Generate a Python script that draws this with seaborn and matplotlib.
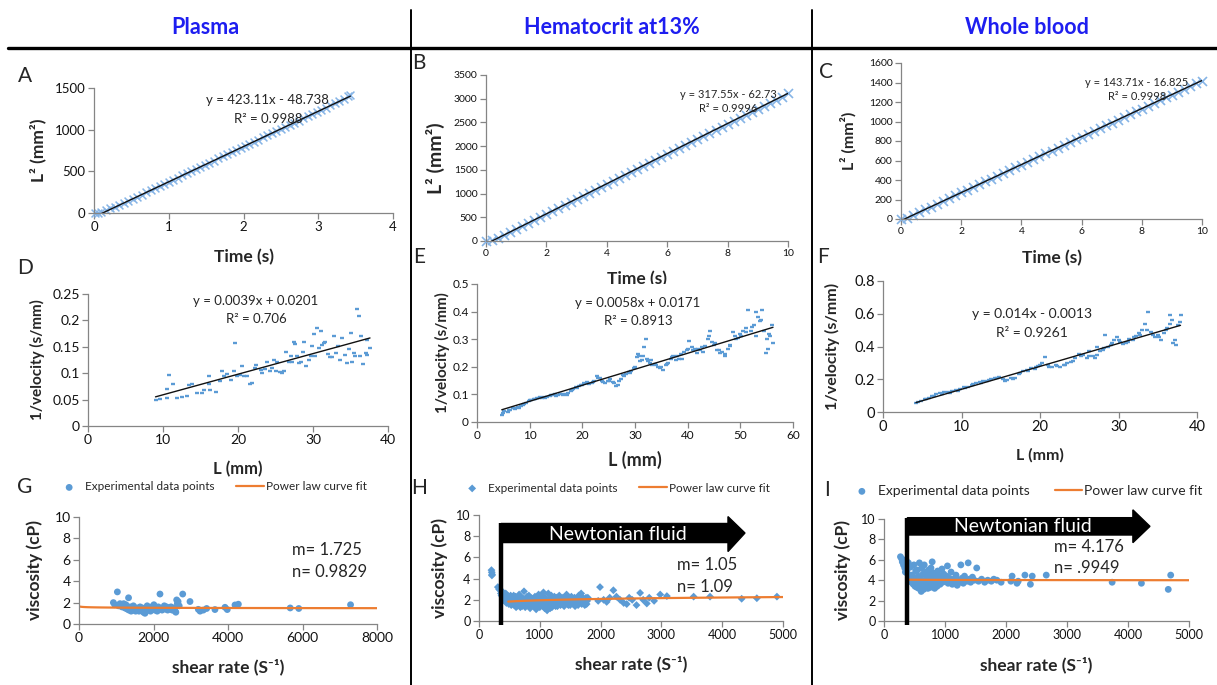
import numpy as np
import seaborn as sns
import matplotlib.pyplot as plt
from matplotlib.lines import Line2D
from matplotlib.patches import Polygon
from matplotlib.ticker import FuncFormatter

# === Data ===
A_time = [0.02, 0.06, 0.10, 0.16, 0.22, 0.28, 0.34, 0.40, 0.46, 0.52, 0.58, 0.64, 0.70, 0.76, 0.82,
          0.88, 0.94, 1.00, 1.06, 1.12, 1.18, 1.24, 1.30, 1.36, 1.42, 1.48, 1.54, 1.60, 1.66, 1.72,
          1.78, 1.84, 1.90, 1.96, 2.02, 2.08, 2.14, 2.20, 2.26, 2.32, 2.38, 2.44, 2.50, 2.56, 2.62,
          2.68, 2.74, 2.80, 2.86, 2.92, 2.98, 3.04, 3.10, 3.16, 3.22, 3.28, 3.34, 3.40, 3.43]
A_L2 = [0, 5, 15, 40, 55, 75, 100, 125, 148, 172, 198, 222, 248, 272, 298,
        322, 350, 372, 398, 425, 452, 475, 500, 527, 553, 578, 603, 630, 655, 680,
        707, 732, 757, 782, 808, 832, 858, 882, 908, 932, 958, 982, 1008, 1035, 1060,
        1086, 1110, 1138, 1163, 1190, 1215, 1240, 1265, 1292, 1318, 1343, 1370, 1400, 1420]

B_time = [0.0, 0.2, 0.4, 0.6, 0.8, 1.0, 1.2, 1.4, 1.6, 1.8, 2.0, 2.2, 2.4, 2.6, 2.8, 3.0, 3.2,
          3.4, 3.6, 3.8, 4.0, 4.2, 4.4, 4.6, 4.8, 5.0, 5.2, 5.4, 5.6, 5.8, 6.0, 6.2, 6.4, 6.6,
          6.8, 7.0, 7.2, 7.4, 7.6, 7.8, 8.0, 8.2, 8.4, 8.6, 8.8, 9.0, 9.2, 9.4, 9.6, 9.8, 10.0]
B_L2 = [0, 20, 70, 130, 195, 258, 322, 385, 448, 512, 575, 638, 700, 763, 826, 890, 952,
        1015, 1078, 1142, 1205, 1268, 1333, 1396, 1460, 1522, 1585, 1650, 1713, 1777, 1840, 1903, 1967, 2030,
        2094, 2157, 2220, 2285, 2348, 2411, 2475, 2538, 2601, 2665, 2728, 2792, 2855, 2918, 2982, 3045, 3110]

C_time = B_time
C_L2 = [0, 10, 40, 70, 100, 128, 157, 186, 214, 243, 272, 300, 329, 357, 386, 415, 443,
        472, 500, 530, 558, 587, 615, 644, 673, 702, 730, 759, 787, 816, 845, 873, 902, 931,
        960, 988, 1017, 1046, 1075, 1104, 1133, 1160, 1190, 1218, 1247, 1276, 1305, 1334, 1362, 1390, 1415]

D_L = [9.0, 9.6, 10.5, 10.8, 11.3, 10.5, 11.8, 12.5, 13.2, 13.5, 13.9, 14.5, 15.2, 15.4, 16.1, 16.1,
       16.3, 17.0, 17.6, 17.9, 18.1, 18.5, 19.0, 19.4, 19.9, 20.3, 20.5, 20.8, 19.6, 21.2, 21.6, 21.9,
       22.3, 22.4, 23.0, 23.2, 23.6, 23.9, 24.2, 24.5, 24.8, 25.0, 25.2, 25.6, 25.9, 26.1, 26.4, 26.8,
       27.0, 27.2, 27.4, 27.6, 27.9, 28.1, 28.4, 28.7, 28.8, 29.1, 29.4, 29.7, 29.9, 30.1, 30.3, 30.5,
       30.8, 31.0, 31.2, 31.4, 31.6, 32.0, 32.2, 32.5, 32.8, 33.1, 33.3, 33.6, 33.9, 34.3, 34.5, 34.8,
       35.0, 35.2, 35.4, 35.6, 35.9, 36.1, 36.2, 36.4, 36.7, 37.0, 37.2, 37.6, 37.2]
D_invv = [0.049, 0.051, 0.070, 0.097, 0.080, 0.053, 0.053, 0.054, 0.057, 0.078, 0.080, 0.062, 0.062, 0.068,
          0.080, 0.094, 0.068, 0.065, 0.086, 0.105, 0.094, 0.099, 0.087, 0.105, 0.094, 0.096, 0.114, 0.094,
          0.157, 0.094, 0.080, 0.082, 0.110, 0.116, 0.106, 0.100, 0.108, 0.122, 0.105, 0.110, 0.125, 0.104,
          0.121, 0.103, 0.101, 0.104, 0.141, 0.121, 0.132, 0.122, 0.160, 0.156, 0.132, 0.119, 0.122, 0.141,
          0.159, 0.114, 0.125, 0.132, 0.151, 0.174, 0.133, 0.185, 0.147, 0.180, 0.154, 0.157, 0.159, 0.137,
          0.131, 0.131, 0.170, 0.138, 0.151, 0.125, 0.166, 0.135, 0.119, 0.146, 0.176, 0.122, 0.138, 0.132,
          0.221, 0.209, 0.132, 0.171, 0.118, 0.138, 0.163, 0.147, 0.135]

E_L = [4.7, 5.2, 5.8, 6.3, 6.8, 7.3, 7.8, 8.3, 8.8, 9.3, 9.8, 10.3, 10.8, 11.3, 11.8, 12.3, 12.8, 13.3,
       13.8, 14.3, 14.8, 15.3, 15.8, 16.3, 16.8, 17.3, 17.8, 18.3, 18.8, 19.3, 19.8, 20.3, 20.8, 21.3,
       21.8, 22.3, 22.8, 23.3, 23.8, 24.3, 24.8, 25.3, 25.8, 26.3, 26.8, 27.3, 27.8, 28.3, 28.8, 29.3,
       29.8, 30.3, 30.8, 31.3, 31.8, 32.0, 32.3, 32.8, 33.3, 33.8, 34.3, 34.8, 35.3, 35.8, 36.3, 36.8,
       37.3, 37.8, 38.3, 38.8, 39.3, 39.8, 40.3, 40.8, 41.3, 41.8, 42.3, 42.8, 43.3, 43.8, 44.2, 44.6,
       45.1, 45.6, 46.1, 46.6, 47.1, 47.6, 48.1, 48.6, 49.1, 49.6, 50.1, 50.6, 51.1, 51.5, 52.0, 52.5,
       52.9, 53.3, 53.7, 54.1, 54.5, 54.9, 55.3, 55.7, 56.0, 56.2,
       5.0, 6.0, 7.0, 8.0, 9.0, 10.0, 11.0, 12.0, 13.0, 14.0, 15.0, 16.0, 17.0, 18.0, 19.0, 20.0,
       21.0, 22.0, 23.0, 24.0, 25.0, 26.0, 27.0, 28.0, 29.0, 30.0, 30.5, 31.0, 31.5, 32.5, 33.0, 34.0,
       35.0, 36.0, 37.0, 38.0, 39.0, 40.0, 41.0, 42.0, 43.0, 44.0, 45.0, 46.0, 47.0, 48.0, 49.0, 50.0,
       51.0, 52.2, 53.0, 54.0, 55.0, 55.5]
E_invv = [0.025, 0.040, 0.035, 0.045, 0.050, 0.048, 0.055, 0.058, 0.062, 0.068, 0.075, 0.080, 0.083, 0.086,
          0.088, 0.087, 0.090, 0.092, 0.095, 0.098, 0.100, 0.097, 0.100, 0.098, 0.102, 0.105, 0.112, 0.120,
          0.128, 0.132, 0.135, 0.140, 0.145, 0.138, 0.142, 0.150, 0.165, 0.160, 0.150, 0.140, 0.150, 0.155,
          0.145, 0.130, 0.135, 0.155, 0.170, 0.175, 0.180, 0.185, 0.195, 0.235, 0.240, 0.225, 0.270, 0.300,
          0.230, 0.215, 0.205, 0.210, 0.200, 0.195, 0.190, 0.205, 0.215, 0.230, 0.240, 0.225, 0.230, 0.245,
          0.255, 0.260, 0.295, 0.270, 0.265, 0.250, 0.260, 0.270, 0.275, 0.300, 0.330, 0.290, 0.285, 0.260,
          0.250, 0.255, 0.240, 0.265, 0.280, 0.325, 0.300, 0.305, 0.310, 0.330, 0.340, 0.405, 0.330, 0.350,
          0.310, 0.380, 0.365, 0.405, 0.330, 0.250, 0.265, 0.310, 0.350, 0.285,
          0.032, 0.042, 0.052, 0.052, 0.065, 0.078, 0.082, 0.090, 0.088, 0.097, 0.095, 0.103, 0.098, 0.115,
          0.125, 0.135, 0.142, 0.145, 0.158, 0.145, 0.148, 0.140, 0.150, 0.168, 0.178, 0.200, 0.245, 0.220,
          0.240, 0.220, 0.225, 0.205, 0.200, 0.210, 0.235, 0.240, 0.230, 0.265, 0.260, 0.265, 0.255, 0.310,
          0.280, 0.260, 0.245, 0.275, 0.310, 0.320, 0.325, 0.345, 0.400, 0.370, 0.300, 0.320]

F_L = [4.2, 4.8, 5.3, 5.8, 6.3, 6.8, 7.3, 7.8, 8.3, 8.8, 9.3, 9.8, 10.3, 10.8, 11.3, 11.8, 12.3, 12.8,
       13.3, 13.8, 14.3, 14.8, 15.3, 15.8, 16.3, 16.8, 17.3, 17.8, 18.3, 18.8, 19.3, 19.8, 20.3, 20.6,
       21.0, 21.5, 22.0, 22.5, 23.0, 23.5, 24.0, 24.5, 25.0, 25.5, 26.0, 26.3, 26.7, 27.0, 27.3, 27.6,
       28.0, 28.3, 28.6, 29.0, 29.4, 29.8, 30.2, 30.6, 31.0, 31.4, 31.8, 32.2, 32.6, 33.0, 33.4, 33.8,
       34.2, 34.6, 35.0, 35.4, 35.8, 36.2, 36.5, 36.8, 37.0, 37.3, 37.6, 37.9,
       4.5, 5.5, 6.5, 7.5, 8.5, 9.5, 10.5, 11.5, 12.5, 13.5, 14.5, 15.5, 16.5, 17.5, 18.5, 19.5, 20.0,
       21.2, 22.2, 23.2, 24.2, 25.2, 26.2, 27.2, 28.2, 29.2, 30.0, 31.2, 32.0, 32.8, 33.6, 34.4, 35.2,
       36.0, 36.6, 37.2, 37.8]
F_invv = [0.055, 0.065, 0.080, 0.085, 0.095, 0.110, 0.115, 0.120, 0.122, 0.128, 0.135, 0.140, 0.150, 0.155,
          0.165, 0.175, 0.185, 0.190, 0.188, 0.200, 0.210, 0.215, 0.200, 0.195, 0.205, 0.210, 0.230, 0.250,
          0.255, 0.270, 0.265, 0.280, 0.300, 0.335, 0.290, 0.275, 0.285, 0.275, 0.290, 0.300, 0.305, 0.330,
          0.355, 0.350, 0.330, 0.370, 0.340, 0.330, 0.400, 0.370, 0.380, 0.470, 0.400, 0.410, 0.440, 0.455,
          0.430, 0.415, 0.420, 0.445, 0.440, 0.465, 0.480, 0.500, 0.540, 0.610, 0.490, 0.460, 0.470, 0.440,
          0.480, 0.510, 0.590, 0.560, 0.420, 0.410, 0.530, 0.590,
          0.060, 0.078, 0.100, 0.112, 0.118, 0.130, 0.145, 0.170, 0.180, 0.195, 0.205, 0.190, 0.200, 0.240,
          0.250, 0.275, 0.290, 0.275, 0.280, 0.290, 0.310, 0.340, 0.345, 0.350, 0.390, 0.420, 0.440, 0.430,
          0.455, 0.470, 0.500, 0.470, 0.455, 0.500, 0.540, 0.440, 0.550]

G_shear = [923, 960, 1030, 1060, 1100, 1150, 1200, 1230, 1260, 1290, 1330, 1340, 1370, 1400, 1430, 1460,
           1490, 1520, 1550, 1580, 1610, 1640, 1670, 1700, 1730, 1772, 1800, 1830, 1860, 1890, 1920, 1950,
           1980, 2010, 2040, 2070, 2100, 2130, 2174, 2200, 2230, 2260, 2290, 2320, 2350, 2380, 2410, 2440,
           2470, 2500, 2540, 2580, 2600, 2622, 2640, 2660, 2690, 2784, 2980, 3203, 3250, 3338, 3427, 3650,
           3920, 3980, 4188, 4278, 5670, 5900, 7290]
G_visc = [2.0, 1.8, 3.0, 1.7, 1.9, 1.6, 1.9, 1.5, 1.8, 1.4, 2.45, 1.3, 1.6, 1.2, 1.5, 1.7,
          1.3, 1.2, 1.5, 1.4, 1.2, 1.6, 1.3, 1.5, 1.1, 1.0, 1.4, 1.7, 1.3, 1.5, 1.2, 1.6,
          1.4, 1.8, 1.3, 1.5, 1.2, 1.6, 2.8, 1.4, 1.3, 1.5, 1.7, 1.4, 1.6, 1.3, 1.5, 1.4,
          1.6, 1.3, 1.5, 1.2, 1.1, 2.25, 1.9, 2.1, 1.7, 2.8, 2.1, 1.37, 1.2, 1.3, 1.45, 1.35,
          1.56, 1.35, 1.78, 1.85, 1.5, 1.45, 1.8]

H_shear = [205, 210, 215, 212, 310, 330, 350, 360, 380, 400, 420, 440, 460, 480, 500, 520, 540, 560, 580,
           600, 620, 640, 660, 680, 700, 720, 740, 760, 780, 800, 820, 840, 860, 880, 900, 920, 940, 960,
           980, 1000, 1020, 1040, 1060, 1080, 1100, 1120, 1140, 1160, 1180, 1200, 1220, 1240, 1260, 1280,
           1300, 1320, 1340, 1360, 1380, 1400, 1420, 1440, 1460, 1480, 1500, 1520, 1540, 1560, 1580, 1600,
           1620, 1640, 1660, 1680, 1700, 1720, 1740, 1760, 1780,
           370, 390, 410, 430, 450, 470, 490, 510, 530, 550, 570, 590, 610, 630, 650, 670, 690, 710, 730,
           750, 770, 790, 810, 830, 850, 870, 890, 910, 930, 950, 970, 990, 1010, 1030, 1050, 1070, 1090,
           1110, 1130, 1150, 1170, 1190, 1210, 1230, 1250, 1270, 1290, 1310, 1330, 1350, 1370, 1390, 1410,
           1430, 1450, 1470, 1490, 1510, 1530, 1550, 1570, 1590, 1610, 1630, 1650, 1670, 1690, 1710, 1730,
           1750, 1770, 1790,
           1960, 1990, 2050, 2100, 2150, 2210, 2260, 2320, 2380, 2430, 2470, 2520, 2590, 2650, 2700, 2760,
           2800, 2880, 2980, 3090, 3530, 3800, 4320, 4570, 4900]
H_visc = [4.8, 4.6, 4.4, 4.3, 3.2, 3.0, 2.9, 2.6, 2.8, 2.5, 2.3, 2.6, 2.2, 2.0, 1.8, 2.4, 1.6, 2.1, 1.5,
          2.3, 1.4, 1.9, 2.5, 1.3, 2.2, 1.7, 2.8, 1.3, 2.0, 1.5, 2.4, 1.2, 1.8, 2.1, 1.4, 2.3, 1.1, 1.7,
          2.5, 1.3, 2.0, 1.6, 2.7, 1.2, 1.9, 1.0, 2.6, 1.5, 2.1, 1.3, 1.8, 2.3, 1.4, 2.0, 1.6, 2.4, 1.5,
          1.9, 2.2, 1.4, 1.8, 2.5, 1.6, 2.0, 1.5, 2.3, 1.7, 1.9, 1.4, 2.1, 1.6, 2.4, 1.8, 2.6, 1.7, 2.0,
          1.5, 2.2, 1.9,
          2.4, 2.2, 2.0, 1.9, 1.7, 2.4, 1.6, 2.0, 1.5, 1.9, 2.4, 1.8, 1.3, 2.2, 1.5, 2.0, 1.6, 1.4, 2.1,
          1.8, 1.5, 2.3, 1.7, 1.4, 2.2, 1.5, 1.9, 1.6, 2.0, 1.4, 2.2, 1.7, 1.5, 2.3, 1.4, 1.9, 2.2, 1.4,
          1.8, 2.0, 1.2, 2.4, 1.6, 2.0, 1.7, 2.2, 1.4, 1.9, 1.7, 2.1, 1.6, 2.0, 1.7, 2.2, 1.9, 1.5, 2.2,
          1.8, 2.0, 1.6, 2.2, 1.8, 2.0, 1.5, 2.1, 1.9, 1.6, 2.2, 1.8, 2.0, 1.6, 2.2,
          1.9, 3.2, 2.0, 1.8, 2.2, 2.9, 2.3, 2.0, 1.7, 1.6, 2.2, 2.0, 1.5, 2.65, 2.0, 1.65,
          2.2, 1.9, 2.5, 2.35, 2.3, 2.3, 2.1, 2.15, 2.3]

I_shear = [270, 290, 300, 320, 340, 350, 360, 380, 390, 400, 410, 420, 440, 450, 460, 480, 490, 500, 510,
           520, 530, 540, 550, 560, 570, 580, 590, 600, 610, 620, 630, 640, 650, 660, 670, 680, 690, 700,
           710, 720, 730, 740, 750, 760, 770, 780, 790, 800, 810, 820, 830, 840, 850, 860, 870, 880, 890,
           900, 920, 940, 950, 960, 980, 1000, 1020, 1040, 1050, 1070, 1090, 1100, 1120, 1140, 1160, 1180,
           1200, 1220, 1240, 1260, 1280, 1300, 1320, 1340, 1360, 1380, 1400, 1420, 1450, 1480, 1520, 1550,
           1600, 1650, 1700, 1760, 1800, 1850, 1920, 2080, 2100, 2180, 2200, 2310, 2400, 2430, 2660, 3740,
           4220, 4660, 4700]
I_visc = [6.3, 6.1, 5.8, 5.5, 5.2, 4.8, 6.0, 5.0, 4.6, 5.7, 4.3, 4.0, 5.3, 3.8, 4.5, 3.6, 5.5, 4.2, 3.4,
          4.9, 3.9, 3.3, 5.0, 4.4, 3.2, 5.7, 3.6, 4.1, 2.9, 5.2, 3.8, 4.6, 3.1, 5.5, 4.0, 3.4, 4.8, 3.7,
          4.3, 3.2, 5.0, 3.9, 4.5, 3.3, 5.2, 4.1, 5.8, 3.6, 4.7, 3.9, 3.2, 4.4, 3.8, 4.2, 3.4, 4.9, 3.9,
          4.5, 3.6, 4.2, 5.1, 3.8, 4.6, 3.9, 4.4, 5.4, 3.7, 4.2, 3.9, 4.8, 3.6, 4.1, 3.8, 4.5,
          3.5, 4.0, 3.8, 5.5, 4.2, 3.7, 4.4, 4.0, 3.9, 5.7, 4.1, 3.8, 4.3, 4.0, 5.2, 3.9,
          4.1, 3.8, 4.0, 3.9, 4.1, 4.0, 3.8, 3.9, 4.4, 3.7, 3.9, 4.5, 3.6, 4.4, 4.5, 3.8,
          3.7, 3.1, 4.5]

# trendline equations printed on the panels (slope, intercept)
A_fit = (423.11, -48.738)
B_fit = (317.55, -62.73)
C_fit = (143.71, -16.825)
D_fit = (0.0039, 0.0201)
E_fit = (0.0058, 0.0171)
F_fit = (0.014, -0.0013)
# power law parameters (m, n)
G_mn = (1.725, 0.9829)
H_mn = (1.05, 1.09)
I_mn = (4.176, 0.9949)

# === Style ===
sns.set_style("white")
plt.rcParams['font.family'] = ['Lato', 'DejaVu Sans']

W, H = 1217, 685
fig = plt.figure(figsize=(W / 100, H / 100), dpi=100)

LIGHT = '#86B4E6'
BLUE = '#5B9BD5'
ORANGE = '#ED7D31'
GREY = '#858585'


def fx(x):
    return x / W


def fy(y):
    return 1 - y / H


def make_ax(box, xlim, ylim, xstep, ystep, tick_fs):
    l, t, r, b = box
    ax = fig.add_axes([fx(l), fy(b), (r - l) / W, (b - t) / H])
    ax.set_xlim(xlim)
    ax.set_ylim(ylim)
    ax.set_xticks(np.arange(xlim[0], xlim[1] + xstep / 2, xstep))
    ax.set_yticks(np.arange(ylim[0], ylim[1] + ystep / 2, ystep))
    fmt = FuncFormatter(lambda v, p: f"{round(v, 6):g}")
    ax.xaxis.set_major_formatter(fmt)
    ax.yaxis.set_major_formatter(fmt)
    for s in ['top', 'right']:
        ax.spines[s].set_visible(False)
    for s in ['left', 'bottom']:
        ax.spines[s].set_color(GREY)
        ax.spines[s].set_linewidth(0.9)
    ax.tick_params(direction='out', length=4, width=0.9, color=GREY,
                   labelsize=tick_fs, labelcolor='#111111', pad=2,
                   left=True, bottom=True)
    return ax


def labels(ax, box, xlab, ylab, xfs, yfs, xlab_y, ylab_x):
    l, t, r, b = box
    ax.set_xlabel(xlab, fontsize=xfs, fontweight='bold', va='center')
    ax.xaxis.set_label_coords(0.5, (b - xlab_y) / (b - t))
    ax.set_ylabel(ylab, fontsize=yfs, fontweight='bold', va='center')
    ax.yaxis.set_label_coords((ylab_x - l) / (r - l), 0.5)


def trend(ax, x, fit):
    tx = np.array([min(x), max(x)])
    sns.lineplot(x=tx, y=fit[0] * tx + fit[1], color='#111111', linewidth=1.0, ax=ax)


def ftext(x, y, s, fs, **kw):
    fig.text(fx(x), fy(y), s, fontsize=fs, **kw)


# === Row 1: L^2 vs time ===
boxA = (94, 88, 393, 213)
axA = make_ax(boxA, (0, 4), (0, 1500), 1, 500, 9.5)
sns.scatterplot(x=A_time, y=A_L2, marker='x', s=32, color=LIGHT, linewidth=1.1, ax=axA, clip_on=False)
trend(axA, A_time, A_fit)
labels(axA, boxA, 'Time (s)', 'L² (mm²)', 12.5, 12.5, 257, 38)
ftext(267, 100, 'y = 423.11x - 48.738', 9.5, ha='center', va='center')
ftext(268, 119, 'R² = 0.9988', 9.5, ha='center', va='center')

boxB = (486, 75, 788, 241)
axB = make_ax(boxB, (0, 10), (0, 3500), 2, 500, 7.5)
sns.scatterplot(x=B_time, y=B_L2, marker='x', s=42, color=LIGHT, linewidth=1.2, ax=axB, clip_on=False)
trend(axB, B_time, B_fit)
labels(axB, boxB, 'Time (s)', 'L² (mm²)', 12.5, 14, 279, 435)
ftext(728, 94, 'y = 317.55x - 62.73', 8, ha='center', va='center')
ftext(728, 108, 'R² = 0.9996', 8, ha='center', va='center')

boxC = (901, 63, 1202, 219)
axC = make_ax(boxC, (0, 10), (0, 1600), 2, 200, 7.5)
sns.scatterplot(x=C_time, y=C_L2, marker='x', s=42, color=LIGHT, linewidth=1.2, ax=axC, clip_on=False)
trend(axC, C_time, C_fit)
labels(axC, boxC, 'Time (s)', 'L² (mm²)', 12.5, 11.5, 258, 848)
ftext(1137, 82, 'y = 143.71x - 16.825', 8, ha='center', va='center')
ftext(1137, 96, 'R² = 0.9998', 8, ha='center', va='center')

# === Row 2: 1/velocity vs L ===
boxD = (88, 294, 388, 426)
axD = make_ax(boxD, (0, 40), (0, 0.25), 10, 0.05, 10)
sns.scatterplot(x=D_L, y=D_invv, marker='_', s=10, color=BLUE, linewidth=1.7, ax=axD)
trend(axD, D_L, D_fit)
labels(axD, boxD, 'L (mm)', '1/velocity (s/mm)', 12, 11, 469, 37)
ftext(256, 301, 'y = 0.0039x + 0.0201', 9.5, ha='center', va='center')
ftext(256, 319, 'R² = 0.706', 9.5, ha='center', va='center')

boxE = (477, 284, 793, 422)
axE = make_ax(boxE, (0, 60), (0, 0.5), 10, 0.1, 8.5)
sns.scatterplot(x=E_L, y=E_invv, marker='_', s=10, color=BLUE, linewidth=1.7, ax=axE)
trend(axE, E_L, E_fit)
labels(axE, boxE, 'L (mm)', '1/velocity (s/mm)', 13, 11, 460, 442)
ftext(638, 303, 'y = 0.0058x + 0.0171', 9.5, ha='center', va='center')
ftext(638, 321, 'R² = 0.8913', 9.5, ha='center', va='center')

boxF = (883, 281, 1197, 412)
axF = make_ax(boxF, (0, 40), (0, 0.8), 10, 0.2, 10.5)
sns.scatterplot(x=F_L, y=F_invv, marker='_', s=10, color=BLUE, linewidth=1.7, ax=axF)
trend(axF, F_L, F_fit)
labels(axF, boxF, 'L (mm)', '1/velocity (s/mm)', 11.5, 11.5, 455, 832)
ftext(1032, 314, 'y = 0.014x - 0.0013', 10, ha='center', va='center')
ftext(1032, 333, 'R² = 0.9261', 10, ha='center', va='center')

# === Row 3: viscosity vs shear rate ===
def power_fit(ax, start, end, mn):
    sx = np.geomspace(start, end, 120)
    sns.lineplot(x=sx, y=mn[0] * sx ** (mn[1] - 1), color=ORANGE, linewidth=1.6, ax=ax,
                 label='Power law curve fit')


def newtonian(ax, x0, body, head, x_base, x_tip, text_xy):
    pts = [(x0, body[1]), (x_base, body[1]), (x_base, head[1]), (x_tip, (body[0] + body[1]) / 2),
           (x_base, head[0]), (x_base, body[0]), (x0, body[0])]
    ax.add_patch(Polygon(pts, closed=True, color='black', clip_on=False, zorder=4))
    ax.plot([x0, x0], [body[1], -0.4], color='black', linewidth=3.2, clip_on=False, zorder=4,
            solid_capstyle='butt')
    ax.text(text_xy[0], text_xy[1], 'Newtonian fluid', color='white', fontsize=14,
            ha='center', va='center', zorder=5)


def legend(ax, x, y, fs, hl):
    h, l = ax.get_legend_handles_labels()
    ax.legend(h, l, ncol=2, loc='center left', bbox_to_anchor=(fx(x), fy(y)),
              bbox_transform=fig.transFigure, frameon=False, fontsize=fs,
              handlelength=hl, handletextpad=0.15, columnspacing=1.8,
              borderpad=0, borderaxespad=0)


boxG = (79, 517, 377, 624)
axG = make_ax(boxG, (0, 8000), (0, 10), 2000, 2, 10)
sns.scatterplot(x=G_shear, y=G_visc, marker='o', s=24, color=BLUE, edgecolor='none', ax=axG,
                label='Experimental data points')
power_fit(axG, 30, 8000, G_mn)
labels(axG, boxG, 'shear rate (S⁻¹)', 'viscosity (cP)', 12.5, 12.5, 667, 35)
legend(axG, 55, 487, 8.5, 2.4)
ftext(292, 550, 'm= 1.725', 12, ha='left', va='center')
ftext(292, 572, 'n= 0.9829', 12, ha='left', va='center')

boxH = (479, 515, 783, 621)
axH = make_ax(boxH, (0, 5000), (0, 10), 1000, 2, 9)
sns.scatterplot(x=H_shear, y=H_visc, marker='D', s=16, color=BLUE, edgecolor='none', ax=axH,
                label='Experimental data points')
power_fit(axH, 480, 5000, H_mn)
labels(axH, boxH, 'shear rate (S⁻¹)', 'viscosity (cP)', 12.5, 12.5, 664, 440)
newtonian(axH, 362, (7.4, 9.2), (6.55, 9.85), 4095, 4375, (2286, 8.15))
legend(axH, 458, 488, 8.5, 2.4)
ftext(677, 565, 'm= 1.05', 12, ha='left', va='center')
ftext(677, 587, 'n= 1.09', 12, ha='left', va='center')

boxI = (884, 519, 1189, 621)
axI = make_ax(boxI, (0, 5000), (0, 10), 1000, 2, 9)
sns.scatterplot(x=I_shear, y=I_visc, marker='o', s=24, color=BLUE, edgecolor='none', ax=axI,
                label='Experimental data points')
power_fit(axI, 390, 5000, I_mn)
labels(axI, boxI, 'shear rate (S⁻¹)', 'viscosity (cP)', 12.5, 12.5, 665, 843)
newtonian(axI, 383, (8.43, 10.13), (7.68, 10.9), 4080, 4360, (2279, 9.25))
legend(axI, 848, 491, 10, 2.0)
ftext(1054, 547, 'm= 4.176', 12, ha='left', va='center')
ftext(1054, 568, 'n= .9949', 12, ha='left', va='center')

# === Headers, panel letters and table lines ===
HEAD = '#1E1EF0'
ftext(205, 28, 'Plasma', 15.5, color=HEAD, fontweight='bold', ha='center', va='center')
ftext(612, 28, 'Hematocrit at13%', 15.5, color=HEAD, fontweight='bold', ha='center', va='center')
ftext(1027, 28, 'Whole blood', 15.5, color=HEAD, fontweight='bold', ha='center', va='center')

for letter, x, y in [('A', 25, 76), ('B', 419, 63), ('C', 826, 72),
                     ('D', 25, 268), ('E', 419, 257), ('F', 823, 257),
                     ('G', 25, 487), ('H', 419, 488), ('I', 827, 490)]:
    ftext(x, y, letter, 15, ha='center', va='center')

fig.add_artist(Line2D([fx(8), 1], [fy(48), fy(48)], color='black', linewidth=2.4))
for xv in [411, 812]:
    fig.add_artist(Line2D([fx(xv), fx(xv)], [fy(10), 0], color='black', linewidth=1.4))

fig.savefig('out.png', dpi=100)
